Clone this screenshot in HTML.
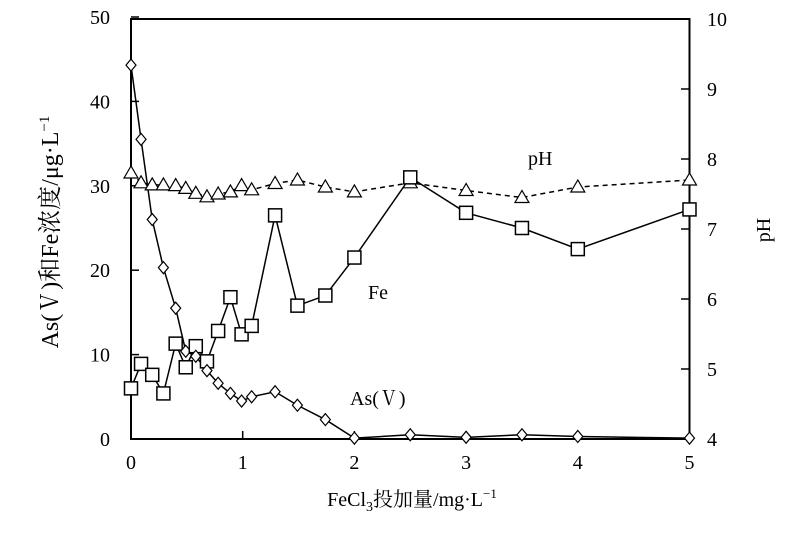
<!DOCTYPE html>
<html><head><meta charset="utf-8"><style>body{margin:0;background:#fff}</style></head><body>
<svg id="s" width="800" height="529" xmlns="http://www.w3.org/2000/svg" font-family="Liberation Serif, Noto Serif CJK SC, serif" font-size="20"></svg>
<script>
const X=v=>131+v*111.7, Y=v=>439-v*8.44, P=v=>439-(v-4)*70;
let o='<rect x="131" y="19" width="558.5" height="420" fill="none" stroke="#000" stroke-width="2"/>';
for(let i=0;i<=5;i++){o+=`<line x1="131" x2="139" y1="${Y(i*10)}" y2="${Y(i*10)}" stroke="#000" stroke-width="1.5"/><text x="110" y="${Y(i*10)+7}" text-anchor="end">${i*10}</text>`;}
for(let i=4;i<=10;i++){o+=`<line x1="681" x2="689.5" y1="${P(i)}" y2="${P(i)}" stroke="#000" stroke-width="1.5"/><text x="707" y="${P(i)+7}">${i}</text>`;}
for(let i=0;i<=5;i++){o+=`<line x1="${X(i)}" x2="${X(i)}" y1="439" y2="431" stroke="#000" stroke-width="1.5"/><text x="${X(i)}" y="469" text-anchor="middle">${i}</text>`;}
const xs=[0,0.09,0.19,0.29,0.4,0.49,0.58,0.68,0.78,0.89,0.99,1.08,1.29,1.49,1.74,2,2.5,3,3.5,4,5];
const as=[44.3,35.5,26,20.3,15.5,10.4,9.8,8.1,6.6,5.4,4.5,5,5.6,4,2.3,0.1,0.5,0.2,0.5,0.3,0.1];
const fe=[6,8.9,7.6,5.4,11.3,8.5,11,9.2,12.8,16.8,12.4,13.4,26.5,15.8,17,21.5,31,26.8,25,22.5,27.2];
const ph=[7.8,7.66,7.63,7.63,7.62,7.58,7.51,7.46,7.5,7.53,7.62,7.56,7.65,7.7,7.6,7.53,7.66,7.55,7.45,7.6,7.7];
const pl=(a,f)=>a.map((v,i)=>X(xs[i])+','+f(v)).join(' ');
o+=`<polyline points="${pl(ph,P)}" fill="none" stroke="#000" stroke-width="1.5" stroke-dasharray="5,4"/>`;
o+=`<line x1="131" x2="155" y1="${Y(30)}" y2="${Y(30)}" stroke="#000" stroke-width="1.5"/>`;
o+=`<polyline points="${pl(fe,Y)}" fill="none" stroke="#000" stroke-width="1.5"/>`;
o+=`<polyline points="${pl(as,Y)}" fill="none" stroke="#000" stroke-width="1.5"/>`;
xs.forEach((x,i)=>{const cx=X(x);let y=P(ph[i]);
o+=`<polygon points="${cx},${y-7} ${cx-7},${y+5} ${cx+7},${y+5}" fill="#fff" stroke="#000" stroke-width="1.2"/>`;
y=Y(fe[i]);o+=`<rect x="${cx-6.5}" y="${y-6.5}" width="13" height="13" fill="#fff" stroke="#000" stroke-width="1.5"/>`;
y=Y(as[i]);o+=`<polygon points="${cx},${y-6} ${cx+5},${y} ${cx},${y+6} ${cx-5},${y}" fill="#fff" stroke="#000" stroke-width="1.2"/>`;});
o+=`<text x="528" y="165">pH</text><text x="368" y="299">Fe</text><text x="350" y="405">As(Ⅴ)</text>`;
o+=`<text transform="translate(58,232) rotate(-90)" text-anchor="middle" font-size="24">As(Ⅴ)和Fe浓度/μg·L<tspan dy="-9" font-size="15">−1</tspan></text>`;
o+=`<text transform="translate(770,230) rotate(-90)" text-anchor="middle">pH</text>`;
o+=`<text x="412" y="506" text-anchor="middle">FeCl<tspan dy="5" font-size="14">3</tspan><tspan dy="-5">投加量/mg·L</tspan><tspan dy="-8" font-size="13">−1</tspan></text>`;
document.getElementById('s').innerHTML=o;
</script>
</body></html>
